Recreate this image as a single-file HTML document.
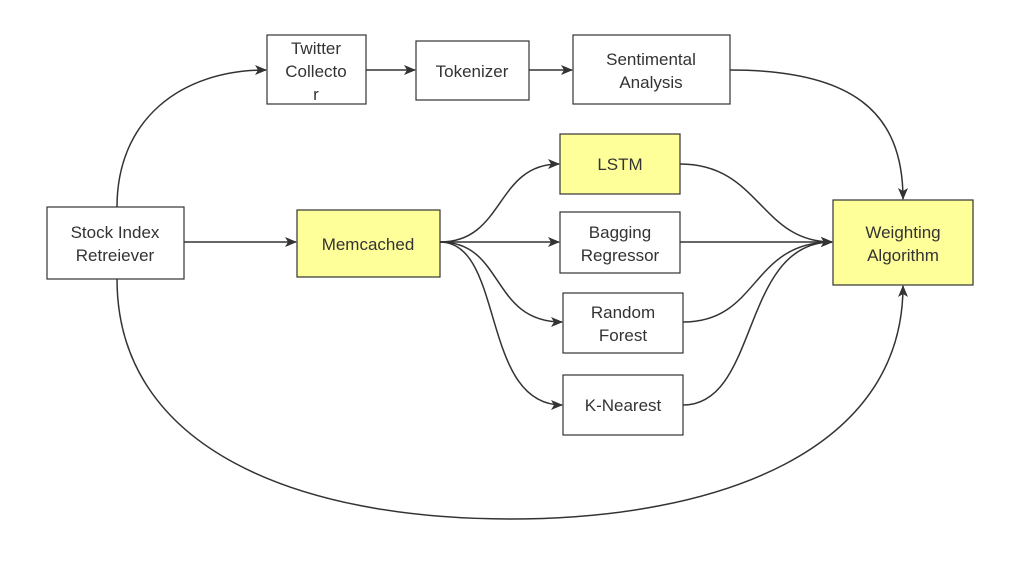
<!DOCTYPE html>
<html><head><meta charset="utf-8"><style>
body{margin:0;background:#fff;width:1036px;height:559px;overflow:hidden}
svg text{font-family:"Liberation Sans","DejaVu Sans",sans-serif;font-size:17px;fill:#333;text-anchor:middle}
</style></head><body>
<svg width="1036" height="559" xmlns="http://www.w3.org/2000/svg">
<defs><marker id="a" markerWidth="12" markerHeight="10" refX="11" refY="5" orient="auto" markerUnits="userSpaceOnUse"><path d="M0,0 L12,5 L0,10 L3,5 z" fill="#333"/></marker></defs>
<g fill="none" stroke="#333" stroke-width="1.5" marker-end="url(#a)">
<path d="M117,207 C117,120 180,70 266,70"/>
<path d="M184,242 L296,242"/>
<path d="M117,279 C117,450 300,519 510,519 C720,519 903,450 903,286"/>
<path d="M366,70 L415,70"/>
<path d="M529,70 L572,70"/>
<path d="M730,70 C850,70 903,110 903,199"/>
<path d="M440,242 C505,242 495,164 559,164"/>
<path d="M440,242 L559,242"/>
<path d="M440,242 C505,242 490,322 562,322"/>
<path d="M440,242 C505,242 480,405 562,405"/>
<path d="M680,164 C760,164 760,242 832,242"/>
<path d="M680,242 L832,242"/>
<path d="M683,322 C760,322 750,242 832,242"/>
<path d="M683,405 C760,405 740,242 832,242"/>
</g>
<g stroke="#333" stroke-width="1.2">
<rect x="267" y="35" width="99" height="69" fill="#fff"/>
<rect x="416" y="41" width="113" height="59" fill="#fff"/>
<rect x="573" y="35" width="157" height="69" fill="#fff"/>
<rect x="560" y="134" width="120" height="60" fill="#ffff99"/>
<rect x="560" y="212" width="120" height="61" fill="#fff"/>
<rect x="563" y="293" width="120" height="60" fill="#fff"/>
<rect x="563" y="375" width="120" height="60" fill="#fff"/>
<rect x="47" y="207" width="137" height="72" fill="#fff"/>
<rect x="297" y="210" width="143" height="67" fill="#ffff99"/>
<rect x="833" y="200" width="140" height="85" fill="#ffff99"/>
</g>
<text x="316" y="54">Twitter</text><text x="316" y="77">Collecto</text><text x="316" y="100">r</text>
<text x="472" y="77">Tokenizer</text>
<text x="651" y="65">Sentimental</text><text x="651" y="88">Analysis</text>
<text x="620" y="170">LSTM</text>
<text x="620" y="238">Bagging</text><text x="620" y="261">Regressor</text>
<text x="623" y="318">Random</text><text x="623" y="341">Forest</text>
<text x="623" y="411">K-Nearest</text>
<text x="115" y="238">Stock Index</text><text x="115" y="261">Retreiever</text>
<text x="368" y="250">Memcached</text>
<text x="903" y="238">Weighting</text><text x="903" y="261">Algorithm</text>
</svg>
</body></html>
